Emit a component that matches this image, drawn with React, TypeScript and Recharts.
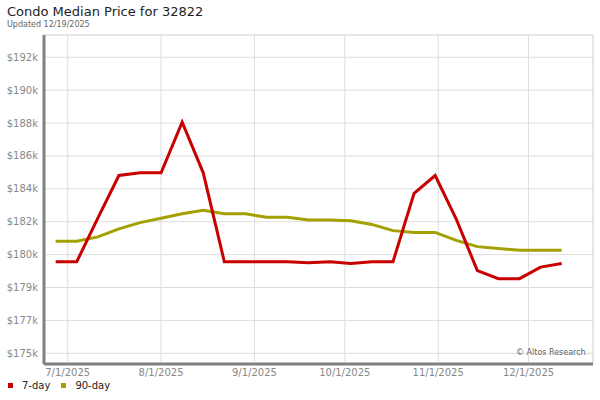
import React from 'react';
import { LineChart, Line, XAxis, YAxis, CartesianGrid, ReferenceLine } from 'recharts';

const DAY = 86400000;

// weekly sample dates (6/27/2025 .. 12/12/2025)
const startDate = Date.UTC(2025, 5, 27);
const weeks = Array.from({ length: 25 }, (_, i) => startDate + i * 7 * DAY);

const sevenDay = [
  180050, 180050, 182500, 184900, 185050, 185050, 187900, 185050, 180050, 180050,
  180050, 180050, 180000, 180050, 179950, 180050, 180050, 183900, 184900, 182450,
  179550, 179100, 179100, 179750, 179950,
];

const ninetyDay = [
  181200, 181200, 181450, 181900, 182250, 182500, 182750, 182950, 182750, 182750,
  182550, 182550, 182400, 182400, 182350, 182150, 181800, 181700, 181700, 181250,
  180900, 180800, 180700, 180700, 180700,
];

const xTicks = [
  Date.UTC(2025, 6, 1),
  Date.UTC(2025, 7, 1),
  Date.UTC(2025, 8, 1),
  Date.UTC(2025, 9, 1),
  Date.UTC(2025, 10, 1),
  Date.UTC(2025, 11, 1),
];

const yTicks = [174900, 176750, 178600, 180450, 182300, 184150, 186000, 187850, 189700, 191550];

const xMin = Date.UTC(2025, 6, 1) - 7.87 * DAY;
const xMax = Date.UTC(2025, 11, 1) + 21.4 * DAY;
const yMin = 174300;
const yMax = 192800;

const data = weeks.map((d, i) => ({ date: d, d7: sevenDay[i], d90: ninetyDay[i] }));

const font = '"DejaVu Sans", sans-serif';

const fmtDate = (v: number) => {
  const d = new Date(v);
  return `${d.getUTCMonth() + 1}/${d.getUTCDate()}/${d.getUTCFullYear()}`;
};
const fmtPrice = (v: number) => `$${Math.round(v / 1000)}k`;

export default function App() {
  return (
    <div style={{ position: 'absolute', left: 0, top: 0, width: 600, height: 400, background: '#fff', fontFamily: font }}>
      <div style={{ position: 'absolute', left: 7, top: 4, fontSize: 13, color: '#222', whiteSpace: 'nowrap' }}>
        Condo Median Price for 32822
      </div>
      <div style={{ position: 'absolute', left: 7, top: 20, fontSize: 8, color: '#666', whiteSpace: 'nowrap' }}>
        Updated 12/19/2025
      </div>
      <div style={{ position: 'absolute', left: 0, top: 0 }}>
        <LineChart width={600} height={400} data={data} margin={{ top: 35, right: 7, left: 0, bottom: 0 }}>
          <CartesianGrid stroke="#dddddd" horizontalValues={yTicks} verticalValues={xTicks} />
          <ReferenceLine y={yMax} stroke="#cccccc" />
          <ReferenceLine x={xMax} stroke="#cccccc" />
          <XAxis
            dataKey="date"
            type="number"
            domain={[xMin, xMax]}
            ticks={xTicks}
            interval={0}
            tickFormatter={fmtDate}
            tickLine={false}
            tickSize={0}
            tickMargin={5}
            height={36}
            axisLine={{ stroke: '#808080', strokeWidth: 3 }}
            tick={{ fontSize: 10, fill: '#888', fontFamily: font }}
            allowDataOverflow
          />
          <YAxis
            type="number"
            domain={[yMin, yMax]}
            ticks={yTicks}
            interval={0}
            tickFormatter={fmtPrice}
            tickLine={false}
            tickSize={0}
            tickMargin={6}
            width={44}
            axisLine={{ stroke: '#808080', strokeWidth: 3 }}
            tick={{ fontSize: 10, fill: '#888', fontFamily: font }}
            allowDataOverflow
          />
          <Line type="linear" dataKey="d90" stroke="#a3a000" strokeWidth={3} dot={false} isAnimationActive={false} />
          <Line type="linear" dataKey="d7" stroke="#c80000" strokeWidth={3} dot={false} isAnimationActive={false} />
        </LineChart>
      </div>
      <div style={{ position: 'absolute', left: 516, top: 348, fontSize: 8, color: '#666', whiteSpace: 'nowrap' }}>
        © Altos Research
      </div>
      <div style={{ position: 'absolute', left: 8, top: 380, fontSize: 10, color: '#222', display: 'flex', alignItems: 'center', whiteSpace: 'nowrap' }}>
        <span style={{ width: 5, height: 5, background: '#c80000', display: 'inline-block', marginRight: 9 }} />
        <span>7-day</span>
        <span style={{ width: 5, height: 5, background: '#a3a000', display: 'inline-block', marginLeft: 11, marginRight: 9 }} />
        <span>90-day</span>
      </div>
    </div>
  );
}
